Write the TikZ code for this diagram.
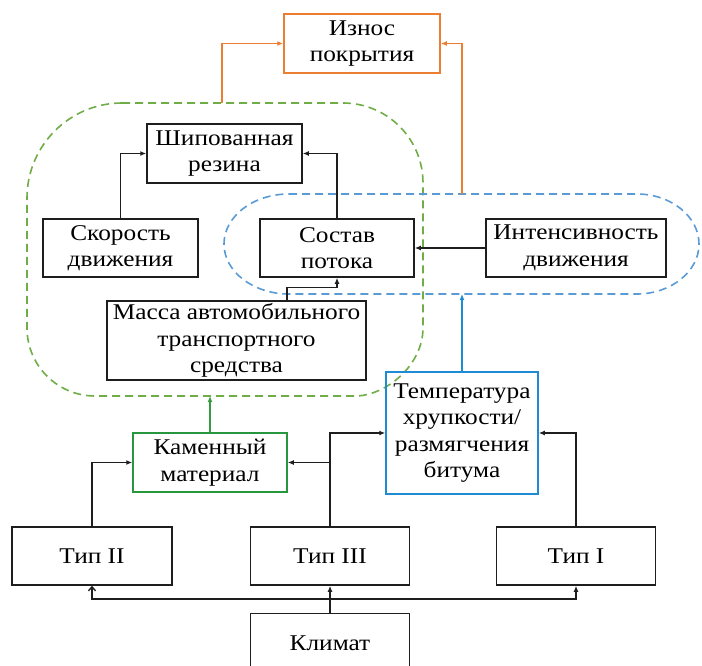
\documentclass[tikz,border=0pt]{standalone}
\usepackage{fontspec}
\setmainfont{Liberation Serif}[FakeStretch=1.125]
\usetikzlibrary{arrows.meta,calc}
\definecolor{gdash}{RGB}{112,173,71}
\definecolor{bdash}{RGB}{91,155,213}
\definecolor{ornge}{RGB}{237,125,49}
\definecolor{kamgreen}{RGB}{40,150,60}
\definecolor{tempblue}{RGB}{30,140,210}
\definecolor{linegray}{RGB}{30,30,30}
\begin{document}
\begin{tikzpicture}[x=1pt,y=-1pt,
  box/.style={draw=linegray, line width=1.5pt, align=center, inner sep=0pt,
    font=\fontsize{22.5}{26.5}\selectfont, minimum height=59pt},
  arr/.style={draw=linegray, line width=1.4pt, -{Latex[length=6pt,width=5pt]}},
  openarr/.style={draw=linegray, line width=1.4pt, -{Straight Barb[length=4pt,width=7pt]}},
  orarr/.style={draw=ornge, line width=1.4pt, -{Latex[length=6pt,width=5pt]}},
  grarr/.style={draw=kamgreen!80!gdash, line width=1.6pt, -{Latex[length=6pt,width=5pt]}},
  blarr/.style={draw=tempblue, line width=1.6pt, -{Latex[length=6pt,width=5pt]}},
  gline/.style={draw=gdash, line width=1.6pt, dash pattern=on 8pt off 5pt},
  bline/.style={draw=bdash, line width=1.6pt, dash pattern=on 8pt off 5pt}]
\useasboundingbox (0,0) rectangle (702,666);

% dashed groups
\draw[gline] (122,103) -- (343,103) .. controls (387.2,103) and (423,138.8) .. (423,183)
  -- (423,328) .. controls (423,365.5) and (385.5,396) .. (355,396)
  -- (95,396) .. controls (57.5,396) and (27,365.5) .. (27,328)
  -- (27,198) .. controls (27,145.6) and (69.6,103) .. (122,103) -- cycle;
\draw[bline] (289,194) -- (637,194) .. controls (670.9,194) and (699,216.4) .. (699,244)
  .. controls (699,271.6) and (670.9,294) .. (637,294)
  -- (289,294) .. controls (253.1,294) and (224,271.6) .. (224,244)
  .. controls (224,216.4) and (253.1,194) .. (289,194) -- cycle;

% nodes
\node[box, draw=ornge, minimum width=156pt] (iznos) at (362,43.5) {Износ\\покрытия};
\node[box, minimum width=155pt] (ship) at (224.5,153.5) {Шипованная\\резина};
\node[box, minimum width=155pt, minimum height=58pt] (skor) at (120.5,248) {Скорость\\движения};
\node[box, minimum width=154pt, minimum height=58pt] (sost) at (337,248) {Состав\\потока};
\node[box, minimum width=180pt, minimum height=58pt] (intens) at (576,248) {Интенсивность\\движения};
\node[box, minimum width=259pt, minimum height=79pt] (massa) at (236.5,340.5) {Масса автомобильного\\транспортного\\средства};
\node[box, draw=tempblue, minimum width=152pt, minimum height=122pt] (temp) at (462,433) {Температура\\хрупкости/\\размягчения\\битума};
\node[box, draw=kamgreen, minimum width=154pt] (kam) at (210,462.5) {Каменный\\материал};
\node[box, minimum width=160pt, minimum height=58pt] (tip2) at (92,556) {Тип II};
\node[box, minimum width=159pt, minimum height=58pt] (tip3) at (330,556) {Тип III};
\node[box, minimum width=159pt, minimum height=58pt] (tip1) at (576,556) {Тип I};
\node[box, minimum width=159pt, minimum height=60pt] (klimat) at (330,643.5) {Климат};

% free ends on the dashed groups
\coordinate (gtop) at (222,103);
\coordinate (btop) at (462,194);
\coordinate (gbot) at (210,396);
\coordinate (bbot) at (462,294);
\coordinate (bus) at (0,599);

% connectors
\draw[orarr] (gtop) |- (iznos.west);
\draw[orarr] (btop) |- (iznos.east);
\draw[arr] (skor.north) |- (ship.west);
\draw[arr] (sost.north) |- (ship.east);
\draw[arr] (intens.west) -- (sost.east);
\draw[arr] ([xshift=50.5pt]massa.north) -- ++(0,-13) -| (sost.south);
\draw[grarr] (kam.north) -- (gbot);
\draw[blarr] (temp.north) -- (bbot);
\draw[arr] (tip2.north) |- (kam.west);
\draw[arr] (tip3.north) |- (temp.west);
\draw[arr] (tip3.north |- kam.east) -- (kam.east);
\draw[draw=linegray, line width=2.2pt] (tip3.north |- kam.east) -- (tip3.north |- temp.south);
\draw[arr] (tip1.north) |- (temp.east);
\draw[arr] (klimat.north) -- (tip3.south);
\draw[openarr] (klimat.north |- bus) -| (tip2.south);
\draw[arr] (klimat.north |- bus) -| (tip1.south);
\end{tikzpicture}
\end{document}
